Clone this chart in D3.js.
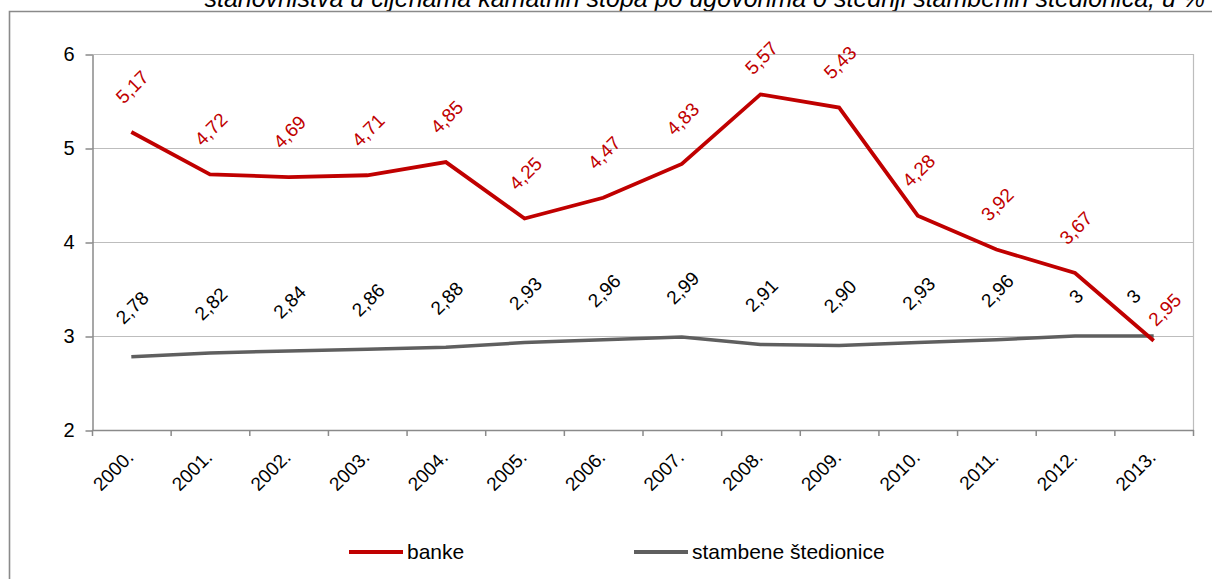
<!DOCTYPE html>
<html lang="hr">
<head>
<meta charset="UTF-8">
<title>banke / stambene štedionice</title>
<script src="https://d3js.org/d3.v7.min.js"></script>
<style>
	html,body{margin:0;padding:0;background:#fff;}
	svg{display:block;font-family:"Liberation Sans",Arial,sans-serif;}
</style>
</head>
<body>
<svg id="chart" width="1212" height="579"></svg>
<script>
// data
var years = ["2000.","2001.","2002.","2003.","2004.","2005.","2006.","2007.","2008.","2009.","2010.","2011.","2012.","2013."];
var banke = [5.17,4.72,4.69,4.71,4.85,4.25,4.47,4.83,5.57,5.43,4.28,3.92,3.67,2.95];
var stambene = [2.78,2.82,2.84,2.86,2.88,2.93,2.96,2.99,2.91,2.90,2.93,2.96,3,3];
var bankeLabels = ["5,17","4,72","4,69","4,71","4,85","4,25","4,47","4,83","5,57","5,43","4,28","3,92","3,67","2,95"];
var stambeneLabels = ["2,78","2,82","2,84","2,86","2,88","2,93","2,96","2,99","2,91","2,90","2,93","2,96","3","3"];
var yTicks = [2,3,4,5,6];
var seriesNames = ["banke","stambene štedionice"];
var titleText = "stanovništva u cijenama kamatnih stopa po ugovorima o štednji stambenih štedionica, u %";

(function(){
	var svg = d3.select("#chart");
	var pl = 92, pr = 1193, pt = 54, pb = 430;
	var red = "#c00000", grey = "#5f5f5f";

	var x = d3.scalePoint().domain(years).range([pl, pr]).padding(0.5);
	var y = d3.scaleLinear().domain([2,6]).range([pb, pt]);

	// cut-off title and frame
	svg.append("text")
		.attr("x", 1205).attr("y", 7)
		.attr("text-anchor", "end")
		.style("font-style", "italic")
		.style("font-size", "25px")
		.attr("fill", "#000")
		.text(titleText);
	svg.append("path")
		.attr("d", "M9.5,590V11.5H1220")
		.attr("fill", "none")
		.attr("stroke", "#8a8a8a")
		.attr("stroke-width", 1.6);

	// gridlines
	svg.append("g").selectAll("line")
		.data(yTicks.filter(d => d > 2))
		.join("line")
		.attr("x1", pl).attr("x2", pr)
		.attr("y1", d => y(d) + 0.5).attr("y2", d => y(d) + 0.5)
		.attr("stroke", "#bdbdbd").attr("stroke-width", 1.2);
	svg.append("line")
		.attr("x1", pr + 0.5).attr("x2", pr + 0.5)
		.attr("y1", pt).attr("y2", pb)
		.attr("stroke", "#bdbdbd").attr("stroke-width", 1.2);

	// y axis
	var yAxis = svg.append("g")
		.attr("transform", "translate(" + (pl + 0.5) + ",0.5)")
		.call(d3.axisLeft(y).tickValues(yTicks).tickSize(7).tickSizeOuter(0).tickPadding(11).tickFormat(d3.format("d")));
	yAxis.selectAll("line, path.domain").attr("stroke", "#8a8a8a").attr("stroke-width", 1.5);
	yAxis.selectAll("text").style("font-size", "20px").attr("fill", "#000");

	// x axis (ticks between categories)
	var step = x.step();
	var tickPos = d3.range(years.length + 1).map(i => pl + i * step);
	var xg = svg.append("g");
	xg.append("line")
		.attr("x1", pl).attr("x2", pr + 1)
		.attr("y1", pb + 0.5).attr("y2", pb + 0.5);
	xg.selectAll("line.t").data(tickPos).join("line")
		.attr("class", "t")
		.attr("x1", d => d + 0.5).attr("x2", d => d + 0.5)
		.attr("y1", pb).attr("y2", pb + 6);
	xg.selectAll("line").attr("stroke", "#8a8a8a").attr("stroke-width", 1.5);

	svg.append("g").selectAll("text")
		.data(years)
		.join("text")
		.attr("transform", d => "translate(" + (x(d) - 6) + "," + (pb + 19) + ") rotate(-45)")
		.attr("text-anchor", "end")
		.attr("dy", "0.7em")
		.style("font-size", "19px")
		.attr("fill", "#000")
		.text(d => d);

	// lines
	var line = d3.line().x((d, i) => x(years[i])).y(d => y(d));
	svg.append("path").datum(stambene)
		.attr("d", line).attr("fill", "none")
		.attr("stroke", grey).attr("stroke-width", 3.5);
	svg.append("path").datum(banke)
		.attr("d", line).attr("fill", "none")
		.attr("stroke", red).attr("stroke-width", 3.8);

	// data labels, rotated -45 and centred above the point, kept inside the chart area
	function labels(vals, texts, color, gap, dx) {
		var sel = svg.append("g").selectAll("text").data(vals).join("text")
			.attr("text-anchor", "middle")
			.attr("dominant-baseline", "central")
			.style("font-size", "19px")
			.attr("fill", color)
			.text((d, i) => texts[i]);
		var pos = [];
		sel.each(function(d, i) {
			var L = this.getComputedTextLength();
			var half = (L + 14) / (2 * Math.SQRT2);
			var cx = x(years[i]) + dx, cy = y(d) - gap - half;
			cy = Math.max(cy, 40 + half);
			pos.push({cx: cx, cy: cy, half: half});
		});
		return {sel: sel, pos: pos};
	}
	var lr = labels(banke, bankeLabels, red, 27, 1);
	var lg = labels(stambene, stambeneLabels, "#000", 31, 1);

	// when the two labels of one year collide, push them apart
	lr.pos.forEach(function(a, i) {
		var b = lg.pos[i];
		if (Math.abs(a.cx - b.cx) < a.half + b.half && Math.abs(a.cy - b.cy) < a.half + b.half) {
			a.cx += 10; a.cy = y(banke[i]) - 13 - a.half;
			b.cx -= 21;
		}
	});
	[lr, lg].forEach(function(l) {
		l.sel.attr("transform", (d, i) => "translate(" + l.pos[i].cx + "," + l.pos[i].cy + ") rotate(-45)");
	});

	// legend
	var legendItems = [{name: seriesNames[0], color: red, lx: 349}, {name: seriesNames[1], color: grey, lx: 634}];
	var legend = svg.append("g");
	legend.selectAll("line").data(legendItems).join("line")
		.attr("x1", d => d.lx).attr("x2", d => d.lx + 54)
		.attr("y1", 552).attr("y2", 552)
		.attr("stroke", d => d.color).attr("stroke-width", 3.8);
	legend.selectAll("text").data(legendItems).join("text")
		.attr("x", d => d.lx + 58).attr("y", 559)
		.style("font-size", "21px")
		.attr("fill", "#000")
		.text(d => d.name);
})();
</script>
</body>
</html>
